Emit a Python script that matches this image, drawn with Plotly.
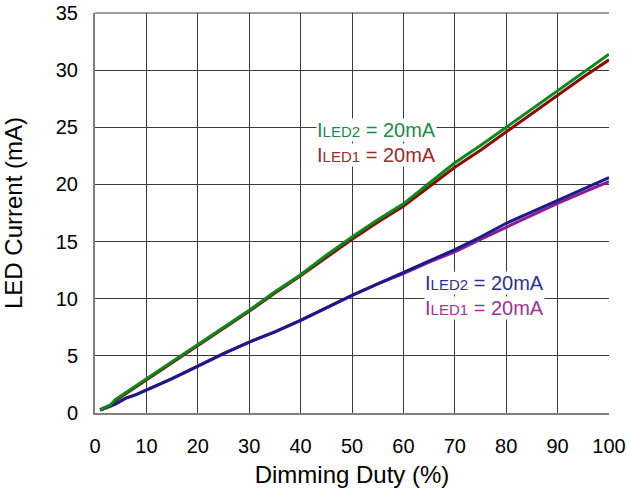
import plotly.graph_objects as go

duty = [1, 2, 3, 4, 5, 6, 8, 10, 15, 20, 25, 30, 35, 40, 45, 50, 55, 60, 65, 70, 75, 80, 85, 90, 95, 100]
iled2_high = [0.3, 0.5, 0.7, 1.2, 1.5, 1.8, 2.4, 3.0, 4.5, 6.0, 7.5, 9.0, 10.6, 12.1, 13.8, 15.4, 16.9, 18.3, 20.1, 21.9, 23.4, 25.0, 26.6, 28.2, 29.8, 31.4]
iled1_high = [0.3, 0.5, 0.7, 1.1, 1.4, 1.7, 2.3, 2.9, 4.4, 5.9, 7.4, 8.9, 10.5, 12.0, 13.6, 15.2, 16.7, 18.1, 19.8, 21.5, 23.0, 24.6, 26.2, 27.8, 29.4, 30.9]
iled2_low = [0.25, 0.4, 0.6, 0.8, 1.05, 1.3, 1.6, 2.0, 3.0, 4.1, 5.2, 6.2, 7.1, 8.1, 9.2, 10.3, 11.3, 12.3, 13.3, 14.3, 15.4, 16.6, 17.6, 18.6, 19.6, 20.6]
iled1_low = [0.25, 0.4, 0.6, 0.8, 1.05, 1.3, 1.6, 2.0, 3.0, 4.1, 5.2, 6.2, 7.1, 8.1, 9.2, 10.3, 11.3, 12.2, 13.2, 14.1, 15.2, 16.25, 17.3, 18.35, 19.3, 20.25]

x_ticks = [0, 10, 20, 30, 40, 50, 60, 70, 80, 90, 100]
y_ticks = [0, 5, 10, 15, 20, 25, 30, 35]

series = [
    (iled1_low, "#8E1E8E"),
    (iled2_low, "#1A1A8C"),
    (iled1_high, "#8B0A0A"),
    (iled2_high, "#0A8A1A"),
]

fig = go.Figure()
for vals, col in series:
    fig.add_trace(go.Scatter(x=duty, y=vals, mode="lines",
                             line=dict(color=col, width=3), showlegend=False))

labels = [
    (43.0, 24.76, "#1E8A4A", "LED2"),
    (43.0, 22.6, "#9E2A2A", "LED1"),
    (64.1, 11.35, "#2E3192", "LED2"),
    (64.1, 9.19, "#A0309A", "LED1"),
]
for x, y, col, sub in labels:
    txt = "I<span style='font-size:15px'>" + sub + "</span> = 20mA"
    fig.add_annotation(x=x, y=y, text=txt, showarrow=False, xanchor="left", yanchor="middle",
                       font=dict(family="Liberation Sans", size=20, color=col),
                       bgcolor="white", borderpad=0)

# top frame line of the plot area
fig.add_shape(type="line", xref="paper", yref="paper", x0=0, x1=1, y0=1, y1=1,
              line=dict(color="#3A3A3A", width=1), layer="below")

fig.update_layout(
    width=627, height=495,
    margin=dict(l=95, r=18, t=13, b=82, autoexpand=False),
    paper_bgcolor="white", plot_bgcolor="white",
    font=dict(family="Liberation Sans", color="black"),
)
fig.update_xaxes(range=[0, 100], tickvals=x_ticks, ticktext=[str(v) for v in x_ticks],
                 showgrid=True, gridcolor="#3A3A3A", gridwidth=1,
                 showline=True, linecolor="#808080", linewidth=2,
                 ticks="outside", ticklen=14, tickcolor="rgba(0,0,0,0)",
                 tickfont=dict(size=20), automargin=False, ticklabeloverflow="allow",
                 title=dict(text="Dimming Duty (%)", font=dict(size=24), standoff=10),
                 zeroline=False)
fig.update_yaxes(range=[0, 35], tickvals=y_ticks, ticktext=[str(v) for v in y_ticks],
                 showgrid=True, gridcolor="#3A3A3A", gridwidth=1,
                 showline=True, linecolor="#808080", linewidth=2,
                 ticks="outside", ticklen=11, tickcolor="rgba(0,0,0,0)",
                 tickfont=dict(size=20), automargin=False, ticklabeloverflow="allow",
                 title=dict(text="LED Current (mA)", font=dict(size=24), standoff=29),
                 zeroline=False)

fig.write_html("out.html", config={"displayModeBar": False},
               post_script="document.body.style.margin='0';")
